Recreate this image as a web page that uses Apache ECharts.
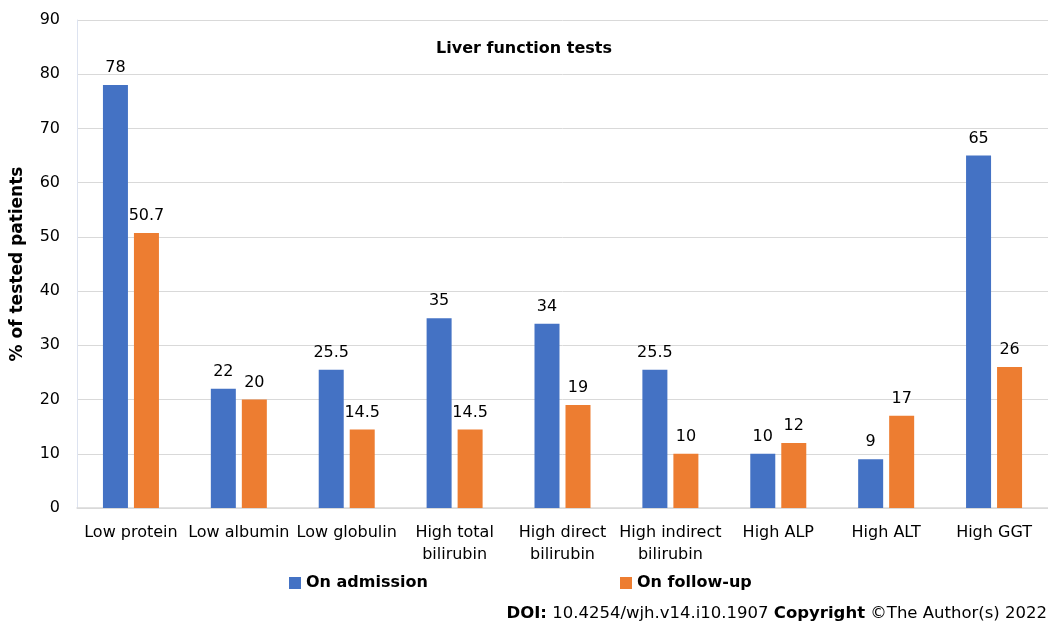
<!DOCTYPE html>
<html>
<head>
<meta charset="utf-8">
<script src="https://cdn.jsdelivr.net/npm/echarts@6/dist/echarts.min.js"></script>
<style>html,body{margin:0;padding:0;background:#fff}#c{width:1048px;height:626px}</style>
</head>
<body>
<div id="c"></div>
<script>
const categories = ['Low protein', 'Low albumin', 'Low globulin', 'High total\nbilirubin', 'High direct\nbilirubin', 'High indirect\nbilirubin', 'High ALP', 'High ALT', 'High GGT'];
const onAdmission = [78, 22, 25.5, 35, 34, 25.5, 10, 9, 65];
const onFollowUp = [50.7, 20, 14.5, 14.5, 19, 10, 12, 17, 26];
const yTicks = [0, 10, 20, 30, 40, 50, 60, 70, 80, 90];

const FONT = '"DejaVu Sans", Verdana, sans-serif';
const chart = echarts.init(document.getElementById('c'), null, {renderer: 'canvas'});
chart.setOption({
  animation: false,
  textStyle: {fontFamily: FONT},
  title: [
    {text: 'Liver function tests', left: 519, top: 36, textAlign: 'center',
     textStyle: {fontFamily: FONT, fontSize: 16, fontWeight: 'bold', color: '#000'}},
    {text: '{b|DOI:} 10.4254/wjh.v14.i10.1907 {b|Copyright} ©The Author(s) 2022', right: 0, top: 600, padding: [5, 1, 5, 5],
     textStyle: {fontFamily: FONT, fontSize: 16.5, fontWeight: 'normal', color: '#000',
       rich: {b: {fontFamily: FONT, fontSize: 16.5, fontWeight: 'bold', color: '#000'}}}}
  ],
  legend: [
    {data: ['On admission'], left: 284, top: 570, itemWidth: 12, itemHeight: 12, itemGap: 4,
     textStyle: {fontFamily: FONT, fontSize: 16, fontWeight: 'bold', color: '#000'}, icon: 'rect'},
    {data: ['On follow-up'], left: 615, top: 570, itemWidth: 12, itemHeight: 12, itemGap: 4,
     textStyle: {fontFamily: FONT, fontSize: 16, fontWeight: 'bold', color: '#000'}, icon: 'rect'}
  ],
  grid: {left: 77, right: 0, top: 20, bottom: 118, containLabel: false},
  xAxis: {
    type: 'category', data: categories,
    axisLine: {show: true, lineStyle: {color: '#d9d9d9', width: 1.5}},
    axisTick: {show: false},
    axisLabel: {fontFamily: FONT, fontSize: 16, color: '#000', margin: 14, interval: 0, lineHeight: 22}
  },
  yAxis: {
    type: 'value', min: yTicks[0], max: yTicks[yTicks.length - 1], interval: 10,
    name: '% of tested patients', nameLocation: 'middle', nameGap: 51, nameRotate: 90,
    nameTextStyle: {fontFamily: FONT, fontSize: 17, fontWeight: 'bold', color: '#000'},
    axisLine: {show: true, lineStyle: {color: '#dde3f0', width: 1}},
    axisTick: {show: false},
    axisLabel: {fontFamily: FONT, fontSize: 16, color: '#000', margin: 17},
    splitLine: {show: true, lineStyle: {color: '#d9d9d9', width: 1}}
  },
  series: [
    {name: 'On admission', type: 'bar', data: onAdmission, barWidth: 25, barGap: '24%',
     itemStyle: {color: '#4472c4'},
     label: {show: true, position: 'top', distance: 9, fontFamily: FONT, fontSize: 16, color: '#000'}},
    {name: 'On follow-up', type: 'bar', data: onFollowUp, barWidth: 25, barGap: '24%',
     itemStyle: {color: '#ed7d31'},
     label: {show: true, position: 'top', distance: 9, fontFamily: FONT, fontSize: 16, color: '#000'}}
  ]
});
</script>
</body>
</html>
